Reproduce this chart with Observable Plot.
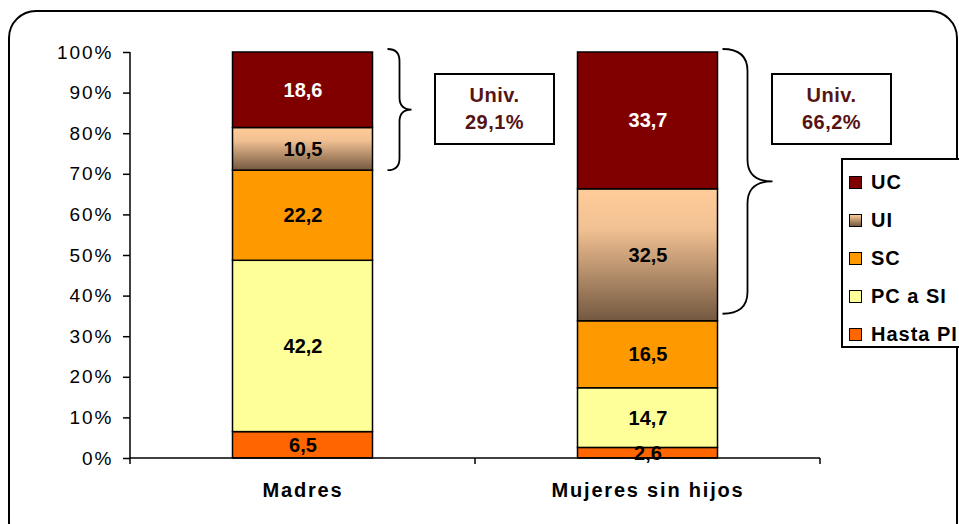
<!DOCTYPE html>
<html>
<head>
<meta charset="utf-8">
<script src="https://cdn.jsdelivr.net/npm/d3@7"></script>
<script src="https://cdn.jsdelivr.net/npm/@observablehq/plot@0.6"></script>
<style>
  html, body { margin: 0; padding: 0; background: #fff; }
  #wrap { position: relative; width: 959px; height: 524px; overflow: hidden; font-family: "Liberation Sans", Arial, sans-serif; }
  #chart { position: absolute; left: 0; top: 0; }
  #frame { position: absolute; left: 8px; top: 10px; width: 950px; height: 540px; border: 2px solid #000; border-radius: 28px; box-sizing: border-box; pointer-events: none; }
  .ubox { position: absolute; top: 73px; width: 121px; height: 72px; border: 2px solid #000; box-sizing: border-box; background: #fff;
          color: #561414; font-weight: bold; font-size: 20px; letter-spacing: 0.5px; text-align: center; line-height: 27px; padding-top: 7px; }
  #legend { position: absolute; left: 841px; top: 158px; width: 140px; height: 190px; border: 2px solid #000; box-sizing: border-box; background: #fff; }
  .li { position: absolute; left: 6px; height: 22px; font-weight: bold; font-size: 20px; letter-spacing: 1px; line-height: 22px; white-space: nowrap; }
  .sw { position: absolute; left: 0; top: 5px; width: 13px; height: 13px; border: 1.5px solid #000; box-sizing: border-box; }
  .lt { position: absolute; left: 22px; top: 0; }
  svg [aria-label="y-axis tick label"] text { letter-spacing: 2px; }
  svg [aria-label="x-axis tick label"] text { letter-spacing: 1.8px; font-weight: bold; }
  svg [aria-label="value-labels"] text { letter-spacing: 1.5px; }
</style>
</head>
<body>
<div id="wrap">
  <div id="chart"></div>
  <div id="frame"></div>
</div>
<script>
// ---- data ----
const categories = ["Madres", "Mujeres sin hijos"];
const levels = ["Hasta PI", "PC a SI", "SC", "UI", "UC"]; // bottom to top
const madresValues = [6.5, 42.2, 22.2, 10.5, 18.6];
const mujeresValues = [2.6, 14.7, 16.5, 32.5, 33.7];
const univLabels = ["Univ.\n29,1%", "Univ.\n66,2%"];
const yTicks = [0, 10, 20, 30, 40, 50, 60, 70, 80, 90, 100];
const levelColors = ["#FF6600", "#FFFF99", "#FF9900", "url(#uiGrad)", "#800000"];
const labelColors = ["#000", "#000", "#000", "#000", "#fff"];

// ---- build stacked rows ----
const seriesByCat = [madresValues, mujeresValues];
const rows = [];
categories.forEach((cat, ci) => {
  let acc = 0;
  seriesByCat[ci].forEach((v, li) => {
    rows.push({cat, level: levels[li], value: v, y1: acc, y2: acc + v, labelColor: labelColors[li]});
    acc += v;
  });
});
const fmt = v => v.toFixed(1).replace(".", ",");

// ---- layout style ----
const W = 959, H = 524;
const M = {left: 130, right: 139, top: 52, bottom: 66};
const barInset = 102.5;
const braceStyle = [{gap: 15, w: 24, r: 12}, {gap: 5, w: 50, r: 22}];

function defsMark() {
  const g = d3.create("svg:g");
  const grad = g.append("defs").append("linearGradient")
    .attr("id", "uiGrad").attr("x1", 0).attr("y1", 0).attr("x2", 0).attr("y2", 1);
  grad.append("stop").attr("offset", "0%").attr("stop-color", "#FFCC99");
  grad.append("stop").attr("offset", "30%").attr("stop-color", "#F2C193");
  grad.append("stop").attr("offset", "100%").attr("stop-color", "#735840");
  return g.node();
}

function axesMark(index, scales, values, dims) {
  const g = d3.create("svg:g").attr("stroke", "#000").attr("stroke-width", 1.5);
  const x0 = dims.marginLeft, x1 = dims.width - dims.marginRight;
  const yb = scales.y(0), yt = scales.y(100);
  g.append("line").attr("x1", x0).attr("x2", x0).attr("y1", yt).attr("y2", yb + 0.5);
  g.append("line").attr("x1", x0).attr("x2", x1).attr("y1", yb).attr("y2", yb);
  const edges = categories.map(c => scales.x(c)).concat([x1]);
  edges.forEach(e => g.append("line").attr("x1", e).attr("x2", e).attr("y1", yb).attr("y2", yb + 6));
  return g.node();
}

function bracesMark(index, scales, values, dims) {
  const g = d3.create("svg:g").attr("fill", "none").attr("stroke", "#000").attr("stroke-width", 1.8);
  const bw = (dims.width - dims.marginLeft - dims.marginRight) / categories.length;
  categories.forEach((cat, i) => {
    const s = braceStyle[i];
    const uiRow = rows.find(r => r.cat === cat && r.level === "UI");
    const barRight = scales.x(cat) + bw - barInset;
    const x0 = barRight + s.gap, xm = x0 + s.w / 2, x1 = x0 + s.w;
    const yTop = scales.y(100) - 3, yBot = scales.y(uiRow.y1) - (i === 1 ? 7 : 0);
    const ym = (yTop + yBot) / 2, r = s.r;
    const p = `M${x0},${yTop} Q${xm},${yTop} ${xm},${yTop + r} L${xm},${ym - r} Q${xm},${ym} ${x1},${ym}` +
              ` Q${xm},${ym} ${xm},${ym + r} L${xm},${yBot - r} Q${xm},${yBot} ${x0},${yBot}`;
    g.append("path").attr("d", p);
  });
  return g.node();
}

const plot = Plot.plot({
  width: W, height: H,
  marginLeft: M.left, marginRight: M.right, marginTop: M.top, marginBottom: M.bottom,
  style: {fontFamily: '"Liberation Sans", Arial, sans-serif', fontSize: "19px", background: "transparent", color: "#000"},
  x: {domain: categories, padding: 0, label: null},
  y: {domain: [0, 100], label: null},
  color: {domain: levels, range: levelColors},
  marks: [
    defsMark,
    Plot.barY(rows, {x: "cat", y1: "y1", y2: "y2", fill: "level", stroke: "#000", strokeWidth: 1.5,
                     insetLeft: barInset, insetRight: barInset, insetTop: 0, insetBottom: 0}),
    axesMark,
    Plot.axisY({ticks: yTicks, tickFormat: d => d + "%", tickSize: 7, tickPadding: 10, fontSize: 19, stroke: "#000", strokeWidth: 1.5}),
    Plot.axisX({tickSize: 0, tickPadding: 24, fontSize: 20, fontWeight: "bold"}),
    Plot.text(rows, {x: "cat", y: d => (d.y1 + d.y2) / 2, text: d => fmt(d.value), fill: "labelColor",
                     fontWeight: "bold", fontSize: 20, ariaLabel: "value-labels"}),
    bracesMark
  ]
});
document.getElementById("chart").appendChild(plot);

// ---- annotation boxes ----
const wrap = document.getElementById("wrap");
const boxLefts = [434, 771];
univLabels.forEach((t, i) => {
  const d = document.createElement("div");
  d.className = "ubox";
  d.style.left = boxLefts[i] + "px";
  d.innerHTML = t.split("\n").join("<br>");
  wrap.appendChild(d);
});

// ---- legend ----
const leg = document.createElement("div");
leg.id = "legend";
const legOrder = levels.map((l, i) => i).reverse();
legOrder.forEach((li, k) => {
  const item = document.createElement("div");
  item.className = "li";
  item.style.top = (11 + k * 38) + "px";
  const sw = document.createElement("div");
  sw.className = "sw";
  sw.style.background = levels[li] === "UI" ? "linear-gradient(#FFCC99, #735840)" : levelColors[li];
  const tx = document.createElement("div");
  tx.className = "lt";
  tx.textContent = levels[li];
  item.appendChild(sw); item.appendChild(tx);
  leg.appendChild(item);
});
wrap.appendChild(leg);
</script>
</body>
</html>
